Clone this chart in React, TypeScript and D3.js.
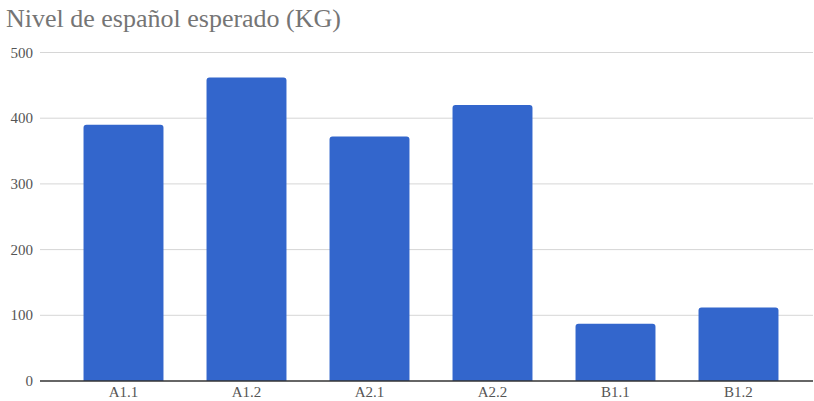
import React from "react";
import * as d3 from "d3";

const categories = ["A1.1", "A1.2", "A2.1", "A2.2", "B1.1", "B1.2"];
const values = [390, 462, 372, 420, 87, 112];
const yTicks = [0, 100, 200, 300, 400, 500];
const title = "Nivel de español esperado (KG)";

export default function App() {
  const W = 814, H = 401;
  const gridLeft = 40, gridRight = 813;
  const y = d3.scaleLinear().domain([0, 500]).range([381, 52.5]);
  const x = d3.scaleBand<string>().domain(categories).range([62, 800]).paddingInner(0.35).paddingOuter(0.175);
  const font = "'Liberation Serif', 'Times New Roman', serif";
  const r = 3;
  return (
    <svg width={W} height={H} style={{ position: "absolute", left: 0, top: 0 }}>
      <rect width={W} height={H} fill="#fff" />
      <text x={6} y={27} fontFamily={font} fontSize={26} fill="#757575">{title}</text>
      {yTicks.map((t) => (
        <g key={t}>
          {t !== 0 && <line x1={gridLeft} x2={gridRight} y1={y(t)} y2={y(t)} stroke="#d6d6d6" strokeWidth={1} />}
          <text x={33} y={y(t) + 5} textAnchor="end" fontFamily={font} fontSize={15} fill="#555">{t}</text>
        </g>
      ))}
      {categories.map((c, i) => {
        const x0 = x(c)!, w = x.bandwidth(), y0 = y(values[i]), yb = y(0);
        const d = `M${x0},${yb} L${x0},${y0 + r} Q${x0},${y0} ${x0 + r},${y0} L${x0 + w - r},${y0} Q${x0 + w},${y0} ${x0 + w},${y0 + r} L${x0 + w},${yb} Z`;
        return (
          <g key={c}>
            <path d={d} fill="#3366cc" />
            <text x={x0 + w / 2} y={397} textAnchor="middle" fontFamily={font} fontSize={15} fill="#555">{c}</text>
          </g>
        );
      })}
      <line x1={gridLeft} x2={gridRight} y1={y(0)} y2={y(0)} stroke="#333" strokeWidth={1.3} />
    </svg>
  );
}
